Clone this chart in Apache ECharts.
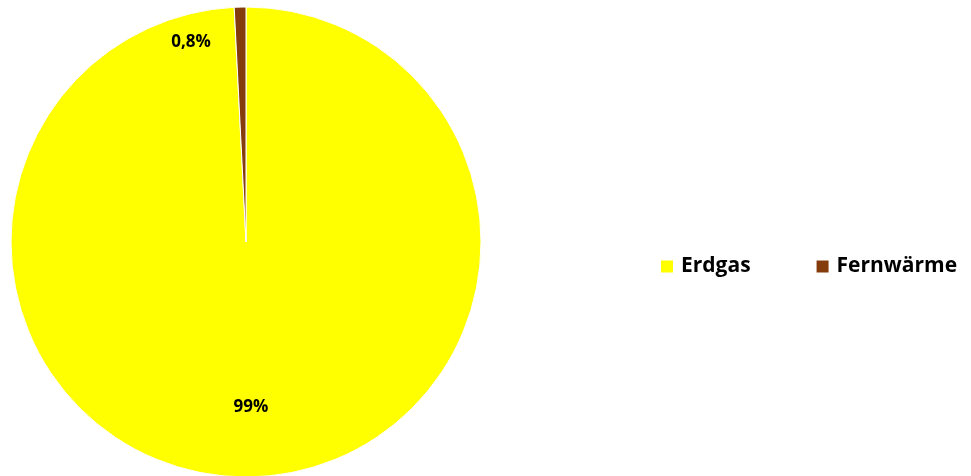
<!DOCTYPE html>
<html><head><meta charset="utf-8">
<script src="https://cdn.jsdelivr.net/npm/echarts@6/dist/echarts.min.js"></script>
<style>html,body{margin:0;padding:0;background:#fff}#c{width:971px;height:476px}</style>
</head><body><div id="c"></div>
<script>
var categories = ['Erdgas', 'Fernwärme'];
var values = [99.2, 0.8];
var labelTexts = ['99%', '0,8%'];
var colors = ['#FFFF00', '#843C0C'];
var labelPos = [[251, 407], [191, 42]];

var chart = echarts.init(document.getElementById('c'));
chart.setOption({
  animation: false,
  legend: {
    orient: 'horizontal',
    left: 654, top: 251,
    itemWidth: 14, itemHeight: 14, itemGap: 64,
    icon: 'rect',
    textStyle: { fontFamily: 'Open Sans', fontWeight: 'bold', fontSize: 21, color: '#000', padding: [0,0,0,2] },
    data: categories
  },
  series: [{
    type: 'pie',
    center: [246, 242],
    radius: [0, 235],
    startAngle: 90,
    clockwise: true,
    itemStyle: { borderColor: '#fff', borderWidth: 1 },
    label: {
      show: true, position: 'inside',
      formatter: function(p){ return labelTexts[p.dataIndex]; },
      fontFamily: 'Open Sans', fontWeight: 'bold', fontSize: 17, color: '#000'
    },
    labelLine: { show: false },
    labelLayout: function(p){ return { x: labelPos[p.dataIndex][0], y: labelPos[p.dataIndex][1], align: 'center', verticalAlign: 'middle' }; },
    emphasis: { disabled: true },
    data: categories.map(function(c, i){ return { name: c, value: values[i], itemStyle: { color: colors[i] } }; })
  }]
});
</script></body></html>
